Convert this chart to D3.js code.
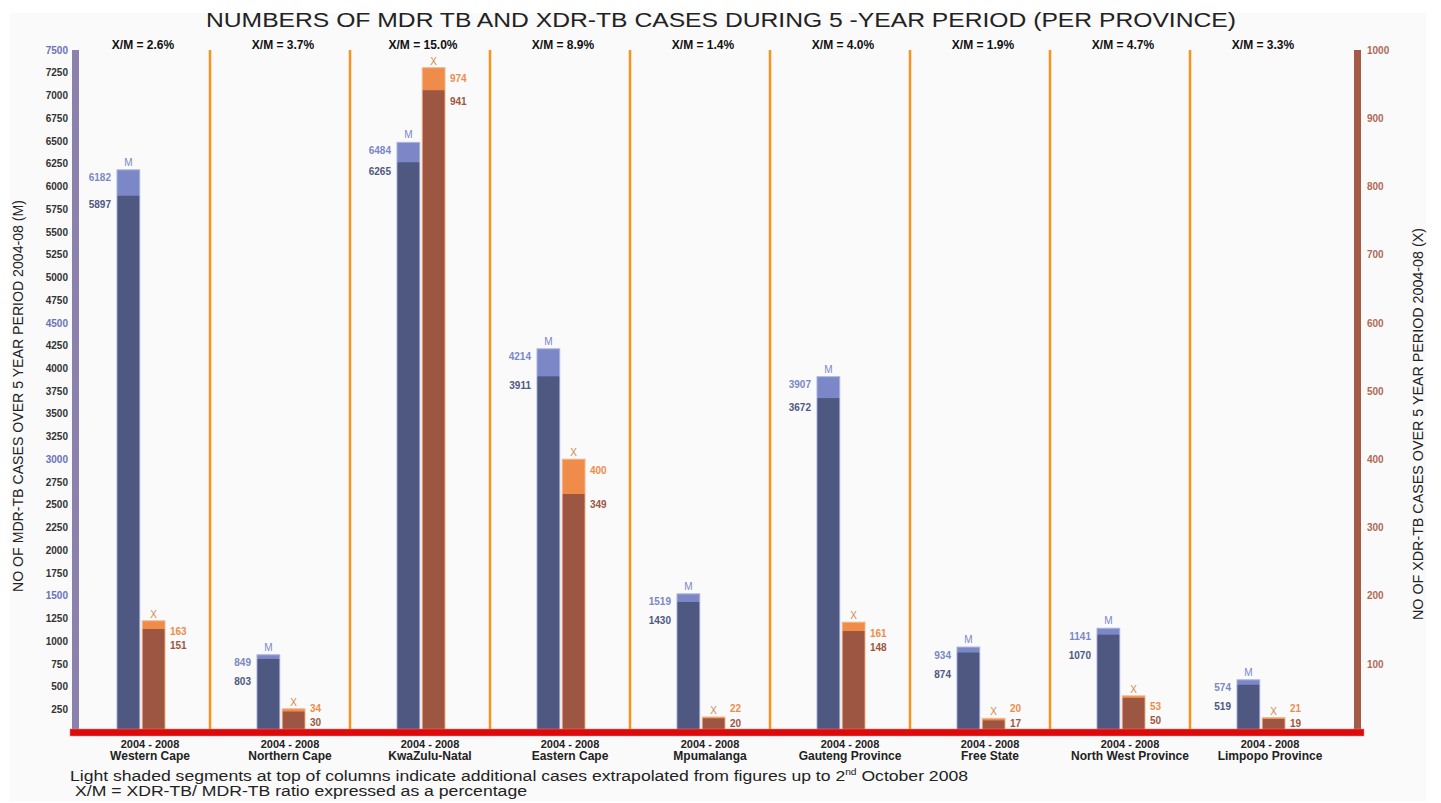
<!DOCTYPE html>
<html><head><meta charset="utf-8">
<script src="https://cdn.jsdelivr.net/npm/d3@7"></script>
<style>
html,body{margin:0;padding:0;background:#fff;}
svg{display:block;font-family:"Liberation Sans",Arial,sans-serif;}
</style></head>
<body>
<svg id="chart" width="1441" height="803"></svg>
<script>
// ---- data ----
const provinces = ["Western Cape","Northern Cape","KwaZulu-Natal","Eastern Cape","Mpumalanga","Gauteng Province","Free State","North West Province","Limpopo Province"];
const periodLabel = "2004 - 2008";
const mdrTotal  = [6182, 849, 6484, 4214, 1519, 3907, 934, 1141, 574];
const mdrActual = [5897, 803, 6265, 3911, 1430, 3672, 874, 1070, 519];
const xdrTotal  = [163, 34, 974, 400, 22, 161, 20, 53, 21];
const xdrActual = [151, 30, 941, 349, 20, 148, 17, 50, 19];
const ratioXM   = ["2.6","3.7","15.0","8.9","1.4","4.0","1.9","4.7","3.3"];
const leftTicks  = d3.range(250, 7501, 250);
const blueTicks  = [1500, 3000, 4500, 7500];
const rightTicks = d3.range(100, 1001, 100);

const C = {mLight:"#7b87c6", mDark:"#4f5880", xLight:"#ef8c4a", xDark:"#9d5641",
           leftBar:"#8c80ad", rightBar:"#a35a47", divider:"#f7931e", base:"#dc0a0a"};

const svg = d3.select("#chart");
svg.append("rect").attr("x",10).attr("y",13).attr("width",1416).attr("height",788).attr("fill","#fafafa");

const yBase = 732, yTop = 50;
const yM = d3.scaleLinear().domain([0,7500]).range([yBase,yTop]);
const yX = d3.scaleLinear().domain([0,1000]).range([yBase,yTop]);
const x = d3.scaleBand().domain(provinces).range([70,1330]);
const inner = d3.scaleBand().domain(["M","X"]).range([47,95]).paddingInner(0.1);

// title
svg.append("text").attr("x",721).attr("y",27).attr("text-anchor","middle")
  .attr("font-size",20).attr("fill","#222").attr("textLength",1030).attr("lengthAdjust","spacingAndGlyphs")
  .text("NUMBERS OF MDR TB AND XDR-TB CASES DURING 5 -YEAR PERIOD (PER PROVINCE)");

// dividers
provinces.slice(1).forEach(p=>{
  svg.append("line").attr("x1",x(p)).attr("x2",x(p)).attr("y1",yTop).attr("y2",yBase)
    .attr("stroke",C.divider).attr("stroke-width",2.5);
});

// left axis
svg.append("rect").attr("x",72).attr("y",yTop).attr("width",7).attr("height",yBase-yTop).attr("fill",C.leftBar);
const gL = svg.append("g").attr("transform","translate(72,0)")
  .call(d3.axisLeft(yM).tickValues(leftTicks).tickSize(0).tickPadding(4).tickFormat(d3.format("d")));
gL.select(".domain").remove();
gL.selectAll("text").attr("font-family","Liberation Sans, Arial, sans-serif").attr("font-size",10)
  .attr("font-weight","bold").attr("fill",d=>blueTicks.includes(d)?"#6a72b8":"#333");

// right axis
svg.append("rect").attr("x",1354).attr("y",yTop).attr("width",7).attr("height",yBase-yTop+2).attr("fill",C.rightBar);
const gR = svg.append("g").attr("transform","translate(1361,0)")
  .call(d3.axisRight(yX).tickValues(rightTicks).tickSize(0).tickPadding(6).tickFormat(d3.format("d")));
gR.select(".domain").remove();
gR.selectAll("text").attr("font-family","Liberation Sans, Arial, sans-serif").attr("font-size",10)
  .attr("font-weight","bold").attr("fill","#b06a55");

// axis titles
svg.append("text").attr("transform","translate(23,396) rotate(-90)").attr("text-anchor","middle")
  .attr("font-size",15).attr("fill","#222").attr("textLength",392).attr("lengthAdjust","spacingAndGlyphs")
  .text("NO OF MDR-TB CASES OVER 5 YEAR PERIOD 2004-08 (M)");
svg.append("text").attr("transform","translate(1423,424) rotate(-90)").attr("text-anchor","middle")
  .attr("font-size",15).attr("fill","#222").attr("textLength",392).attr("lengthAdjust","spacingAndGlyphs")
  .text("NO OF XDR-TB CASES OVER 5 YEAR PERIOD 2004-08 (X)");

// bars
const groups = svg.selectAll("g.prov").data(provinces).join("g").attr("class","prov")
  .attr("transform",p=>`translate(${x(p)},0)`);

groups.each(function(p,i){
  const g = d3.select(this);
  const mx = inner("M"), xx = inner("X"), bw = inner.bandwidth();
  // M bars
  g.append("rect").attr("x",mx).attr("width",bw).attr("y",yM(mdrTotal[i])).attr("height",yBase-yM(mdrTotal[i]))
    .attr("fill",C.mLight).attr("stroke","#aab2de").attr("stroke-width",1);
  g.append("rect").attr("x",mx+0.5).attr("width",bw-1).attr("y",yM(mdrActual[i])).attr("height",yBase-yM(mdrActual[i]))
    .attr("fill",C.mDark);
  // X bars
  g.append("rect").attr("x",xx).attr("width",bw).attr("y",yX(xdrTotal[i])).attr("height",yBase-yX(xdrTotal[i]))
    .attr("fill",C.xLight).attr("stroke","#f3b48a").attr("stroke-width",1);
  g.append("rect").attr("x",xx+0.5).attr("width",bw-1).attr("y",yX(xdrActual[i])).attr("height",yBase-yX(xdrActual[i]))
    .attr("fill",C.xDark);
  // markers
  g.append("text").attr("x",mx+bw/2).attr("y",yM(mdrTotal[i])-4).attr("text-anchor","middle")
    .attr("font-size",10).attr("fill",C.mLight).text("M");
  g.append("text").attr("x",xx+bw/2).attr("y",yX(xdrTotal[i])-3).attr("text-anchor","middle")
    .attr("font-size",10).attr("fill","#d08850").text("X");
  // M value labels
  const mlC = yM(mdrTotal[i]) + 8;
  const mdC = Math.max(yM(mdrActual[i]) + 9, mlC + 19);
  g.append("text").attr("x",mx-6).attr("y",mlC).attr("dy","0.35em").attr("text-anchor","end")
    .attr("font-size",10).attr("font-weight","bold").attr("fill",C.mLight).text(mdrTotal[i]);
  g.append("text").attr("x",mx-6).attr("y",mdC).attr("dy","0.35em").attr("text-anchor","end")
    .attr("font-size",10).attr("font-weight","bold").attr("fill",C.mDark).text(mdrActual[i]);
  // X value labels
  const xlC = Math.min(yX(xdrTotal[i]) + 11, yBase - 24);
  const xdC = Math.min(Math.max(yX(xdrActual[i]) + 11, xlC + 14), yBase - 9);
  g.append("text").attr("x",xx+bw+5).attr("y",xlC).attr("dy","0.35em")
    .attr("font-size",10).attr("font-weight","bold").attr("fill",C.xLight).text(xdrTotal[i]);
  g.append("text").attr("x",xx+bw+5).attr("y",xdC).attr("dy","0.35em")
    .attr("font-size",10).attr("font-weight","bold").attr("fill",C.xDark).text(xdrActual[i]);
  // ratio label
  g.append("text").attr("x",73).attr("y",49).attr("text-anchor","middle")
    .attr("font-size",12).attr("font-weight","bold").attr("fill","#111").text(`X/M = ${ratioXM[i]}%`);
  // category labels
  g.append("text").attr("x",80).attr("y",748).attr("text-anchor","middle")
    .attr("font-size",11).attr("font-weight","bold").attr("fill","#222").text(periodLabel);
  g.append("text").attr("x",80).attr("y",760).attr("text-anchor","middle")
    .attr("font-size",12).attr("font-weight","bold").attr("fill","#222").text(p);
});

// baseline
svg.append("rect").attr("x",70).attr("y",729).attr("width",1294).attr("height",7).attr("fill",C.base)
  .attr("stroke","#f08080").attr("stroke-width",0.5);

// footnotes
const f1 = svg.append("text").attr("x",70).attr("y",781).attr("font-size",15.5).attr("fill","#222")
  .attr("textLength",898).attr("lengthAdjust","spacingAndGlyphs");
f1.append("tspan").text("Light shaded segments at top of columns indicate additional cases extrapolated from figures up to 2");
f1.append("tspan").attr("font-size",9).attr("dy",-6).text("nd");
f1.append("tspan").attr("dy",6).text(" October 2008");
svg.append("text").attr("x",75).attr("y",796).attr("font-size",15.5).attr("fill","#222")
  .attr("textLength",452).attr("lengthAdjust","spacingAndGlyphs")
  .text("X/M = XDR-TB/ MDR-TB ratio expressed as a percentage");
</script>
</body></html>
